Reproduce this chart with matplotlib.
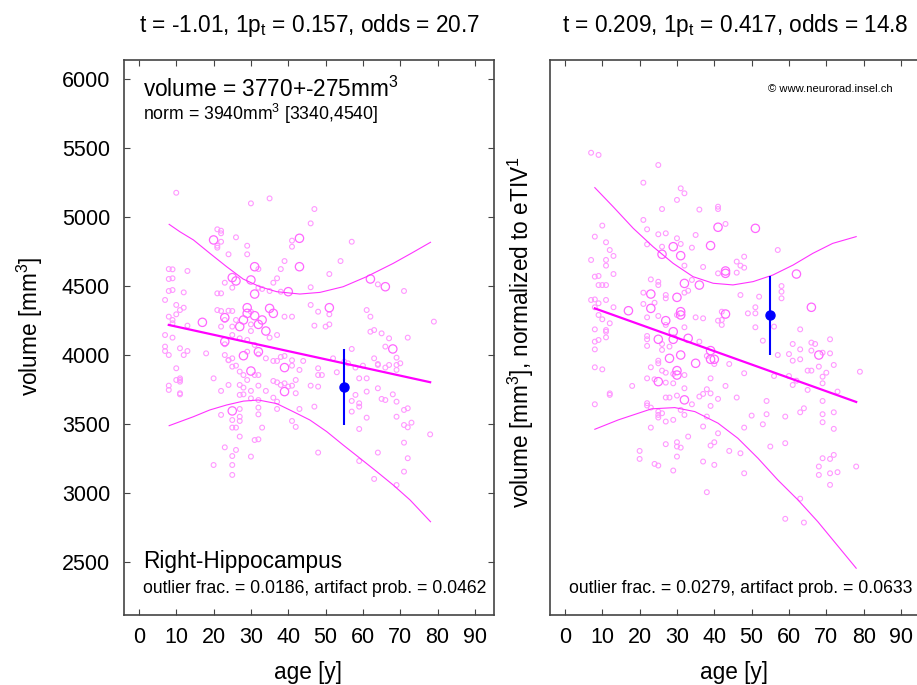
import numpy as np
import matplotlib
matplotlib.use("Agg")
import matplotlib.pyplot as plt

plt.rcParams["font.family"] = ["Liberation Sans", "DejaVu Sans"]
plt.rcParams["mathtext.fontset"] = "custom"
plt.rcParams["mathtext.rm"] = "Liberation Sans"
plt.rcParams["mathtext.it"] = "Liberation Sans:italic"

# --- Right-Hippocampus, absolute volume (age, mm^3) ---
left_small = [
    (10, 5178), (30, 5101), (35, 5137), (47, 5060), (46, 4956), (21, 4913), (22, 4903), (22, 4884),
    (22, 4823), (21, 4794), (21, 4780), (26, 4855), (29, 4794), (29, 4732), (24, 4732), (41, 4831),
    (41, 4787), (57, 4823), (39, 4683), (32, 4625), (54, 4683), (51, 4589), (8, 4625), (9, 4623),
    (13, 4611), (8, 4553), (9, 4558), (37, 4558), (36, 4526), (38, 4625), (23, 4526), (32, 4490),
    (33, 4481), (25, 4490), (46, 4493), (64, 4514), (71, 4466), (8, 4466), (9, 4473), (12, 4456),
    (21, 4449), (22, 4449), (35, 4466), (38, 4461),
    (7, 4401), (10, 4365), (11, 4328), (12, 4345), (8, 4280), (9, 4256), (9, 4232), (10, 4297),
    (13, 4215), (21, 4328), (22, 4321), (24, 4323), (25, 4321), (23, 4256), (22, 4208), (25, 4208),
    (26, 4256), (30, 4316), (30, 4224), (30, 4176), (39, 4280), (41, 4280), (35, 4128), (37, 4147),
    (46, 4365), (48, 4316), (51, 4297), (51, 4224), (50, 4208), (47, 4215), (61, 4328), (62, 4280),
    (62, 4171), (63, 4183), (65, 4159), (67, 4123), (72, 4128), (79, 4244), (7, 4147), (9, 4128),
    (7, 4063), (7, 4031), (8, 4002), (11, 4051), (12, 4002), (13, 4031), (23, 4080), (25, 4147),
    (27, 4123), (29, 4111), (31, 4075), (18, 4014), (23, 4002), (24, 3964), (25, 3978), (29, 4026),
    (32, 4007), (34, 3978), (36, 3959), (37, 3959), (38, 3988), (39, 3995), (41, 3964), (44, 3959),
    (41, 3925), (43, 3894), (48, 3906), (52, 3978), (57, 4046), (55, 3954), (56, 3942), (58, 3911),
    (60, 3925), (63, 3978), (64, 3930), (64, 3937), (66, 4063), (69, 3983), (69, 3930), (70, 3942),
    (67, 3930), (66, 3911), (69, 3894), (10, 3906), (8, 3780), (8, 3749), (10, 3821), (11, 3833),
    (11, 3809), (11, 3821), (11, 3725), (11, 3717), (20, 3833), (24, 3966), (25, 3918), (26, 3925),
    (27, 3882), (28, 3857), (29, 3821), (31, 3857), (32, 3857), (36, 3814), (37, 3804), (38, 3785),
    (39, 3797), (40, 3773), (41, 3780), (42, 3725), (42, 3821), (46, 3780), (48, 3857), (49, 3857),
    (53, 3877), (59, 3833), (61, 3833), (24, 3785), (27, 3785), (28, 3766), (28, 3717), (30, 3742),
    (32, 3780), (34, 3742), (36, 3693), (22, 3742), (27, 3713), (30, 3688), (32, 3676), (37, 3664),
    (48, 3773), (58, 3713), (57, 3669), (59, 3652), (61, 3737), (64, 3761), (65, 3684), (66, 3676),
    (68, 3717), (69, 3664),
    (27, 3611), (22, 3568), (25, 3531), (27, 3555), (27, 3524), (25, 3476), (26, 3476), (32, 3621),
    (32, 3572), (37, 3611), (43, 3611), (47, 3628), (33, 3476), (41, 3524), (42, 3481), (27, 3411),
    (31, 3386), (32, 3391), (23, 3333), (26, 3314), (25, 3270), (30, 3266), (20, 3205), (25, 3205),
    (25, 3133), (48, 3295), (57, 3592), (59, 3628), (61, 3548), (59, 3466), (64, 3295), (59, 3234),
    (63, 3104), (69, 3060), (69, 3555), (71, 3604), (72, 3616), (71, 3495), (72, 3478), (73, 3512),
    (71, 3367), (72, 3254), (71, 3157), (78, 3427),
]
left_big = [
    (20, 4836), (43, 4848), (43, 4642), (31, 4642), (25, 4563), (26, 4539), (30, 4546), (62, 4553),
    (66, 4497), (31, 4444), (40, 4461), (17, 4239), (23, 4273), (27, 4208), (28, 4256), (29, 4345),
    (29, 4304), (31, 4287), (32, 4224), (33, 4256), (34, 4176), (35, 4340), (36, 4304), (51, 4345),
    (23, 4099), (28, 3997), (32, 4026), (39, 3911), (68, 4046), (30, 3886), (39, 3737), (25, 3597),
]

# --- normalized to eTIV ---
right_small = [
    (7, 5468), (9, 5452), (25, 5379), (21, 5251), (31, 5210), (32, 5174), (30, 5126), (26, 5060),
    (36, 5056), (41, 5077), (41, 5060), (21, 4981), (10, 4940), (22, 4913), (43, 4952), (8, 4860),
    (25, 4877), (27, 4884), (30, 4848), (35, 4872), (11, 4819), (22, 4804), (26, 4787), (31, 4807),
    (34, 4780), (12, 4763), (57, 4763), (13, 4720), (7, 4691), (11, 4691), (11, 4650), (32, 4650),
    (37, 4640), (46, 4679), (48, 4715), (47, 4650), (48, 4635),
    (8, 4570), (9, 4575), (13, 4589), (9, 4509), (10, 4509), (11, 4509), (23, 4550), (25, 4533),
    (25, 4509), (34, 4546), (32, 4454), (33, 4468), (41, 4594), (46, 4599), (58, 4502), (58, 4461),
    (21, 4454), (27, 4437), (27, 4413), (7, 4401), (8, 4405), (9, 4377), (11, 4401), (8, 4348),
    (13, 4348), (21, 4372), (24, 4381), (25, 4285), (22, 4275), (30, 4292), (35, 4275), (37, 4268),
    (42, 4316), (42, 4256), (41, 4251), (42, 4220), (47, 4437), (52, 4425), (58, 4413), (51, 4348),
    (51, 4304), (49, 4304), (9, 4292), (10, 4261), (12, 4232), (8, 4188), (11, 4183), (11, 4171),
    (11, 4130), (9, 4111), (8, 4099), (8, 4043), (27, 4220), (32, 4203), (36, 4099), (22, 4140),
    (22, 4116), (22, 4068), (26, 4082), (28, 4063), (26, 4039), (25, 3961), (25, 3942), (38, 3995),
    (40, 3937), (44, 3937), (51, 4203), (53, 4106), (56, 4208), (57, 4002), (60, 4009), (61, 4082),
    (63, 4043), (63, 3971), (61, 3961), (66, 4092), (67, 4082), (66, 4034), (69, 4019), (71, 4014),
    (71, 4116), (63, 4188), (68, 3918), (65, 3889), (66, 3889), (70, 3874), (72, 3930), (79, 3881),
    (8, 3913), (10, 3898), (23, 3913), (26, 3889), (27, 3874), (29, 3865), (32, 3857), (22, 3833),
    (24, 3826), (27, 3802), (29, 3797), (32, 3761), (39, 3833), (38, 3754), (43, 3778), (18, 3778),
    (48, 3870), (56, 3850), (60, 3850), (62, 3816), (61, 3785), (69, 3845), (69, 3797), (65, 3749),
    (73, 3737), (12, 3724), (39, 3724), (37, 3720),
    (8, 3645), (12, 3713), (22, 3653), (22, 3636), (23, 3621), (25, 3592), (25, 3568), (25, 3549),
    (26, 3580), (27, 3520), (29, 3532), (27, 3694), (28, 3694), (30, 3708), (31, 3604), (32, 3568),
    (34, 3645), (36, 3701), (39, 3633), (41, 3684), (46, 3694), (38, 3556), (37, 3484), (23, 3476),
    (41, 3435), (33, 3411), (27, 3356), (30, 3370), (30, 3339), (31, 3331), (39, 3346), (40, 3370),
    (20, 3307), (20, 3249), (24, 3213), (25, 3201), (30, 3266), (29, 3165), (37, 3230), (40, 3206),
    (44, 3307), (47, 3290), (48, 3145), (48, 3476), (50, 3563), (53, 3500), (54, 3669), (54, 3573),
    (59, 3556), (55, 3339), (59, 3363), (38, 3008), (63, 2961), (59, 2815), (64, 2788), (63, 3587),
    (64, 3616), (69, 3669), (69, 3573), (69, 3515), (72, 3587), (72, 3467), (69, 3254), (71, 3249),
    (72, 3278), (68, 3194), (68, 3133), (71, 3145), (73, 3153), (71, 3061), (78, 3194),
]
right_big = [
    (41, 4928), (51, 4920), (29, 4787), (39, 4795), (26, 4732), (31, 4722), (43, 4611), (32, 4521),
    (36, 4509), (43, 4594), (62, 4589), (23, 4444), (30, 4420), (17, 4323), (23, 4340), (31, 4316),
    (31, 4292), (43, 4299), (66, 4348), (27, 4251), (29, 4171), (25, 4116), (29, 4116), (33, 4123),
    (31, 4002), (28, 3978), (35, 3942), (39, 4034), (39, 3971), (40, 3971), (68, 4002), (30, 3889),
    (30, 3857), (25, 3809), (32, 3677),
]

# regression lines and prediction bands
fit_age = [8, 78]
left_fit = [4220, 3805]
right_fit = [4340, 3662]

left_up_age = [8.1, 11.0, 14.6, 19.0, 23.5, 27.9, 32.4, 36.9, 43.1, 48.5, 54.7, 61.0, 68.1, 73.0, 78.1]
left_up = [4949, 4895, 4836, 4739, 4642, 4553, 4497, 4461, 4444, 4456, 4497, 4570, 4666, 4740, 4819]
left_lo_age = [8.1, 14.6, 19.0, 23.5, 28.0, 32.0, 36.9, 41.3, 45.8, 50.3, 54.7, 59.2, 63.7, 68.1, 72.6, 78.1]
left_lo = [3490, 3555, 3604, 3640, 3668, 3676, 3650, 3592, 3531, 3447, 3350, 3254, 3157, 3060, 2952, 2794]

right_up_age = [8.0, 12.9, 18.3, 23.6, 29.0, 34.3, 39.7, 45.0, 50.4, 55.7, 61.1, 66.4, 71.7, 78.0]
right_up = [5215, 5077, 4920, 4787, 4666, 4570, 4522, 4510, 4534, 4582, 4654, 4739, 4811, 4860]
right_lo_age = [8.0, 14.3, 23.2, 29.4, 34.8, 41.0, 46.3, 51.7, 57.0, 62.4, 67.7, 78.0]
right_lo = [3464, 3532, 3612, 3621, 3592, 3508, 3399, 3254, 3097, 2952, 2795, 2457]

# subject measurement (age, volume, error)
subj_age = 55
left_subj = (3770, 275)
right_subj = (4290, 287)

fig = plt.figure(figsize=(9.17, 6.85), dpi=100)
ax1 = fig.add_axes([0.1352, 0.1022, 0.4035, 0.8102])
ax2 = fig.add_axes([0.5998, 0.1022, 0.4035, 0.8102])

BIG = 16.3
SMALL = 12.7


def draw_panel(ax, small, big, fit, up_age, up, lo_age, lo, subj):
    s = np.array(small)
    b = np.array(big)
    ax.scatter(s[:, 0], s[:, 1], s=12, facecolors="none", edgecolors="#ff99ff", linewidths=0.8, zorder=2)
    ax.scatter(b[:, 0], b[:, 1], s=36, facecolors="none", edgecolors="#ff66ff", linewidths=0.9, zorder=2)
    ax.plot(fit_age, fit, color="#ff00ff", lw=1.6, zorder=3)
    ax.plot(up_age, up, color="#ff33ff", lw=0.8, zorder=3)
    ax.plot(lo_age, lo, color="#ff33ff", lw=0.8, zorder=3)
    ax.errorbar([subj_age], [subj[0]], yerr=[subj[1]], fmt="o", color="#0000ff",
                ms=6.5, elinewidth=1.5, capsize=0, zorder=4)
    ax.set_xlim(-4, 95.1)
    ax.set_ylim(2118, 6140)
    ax.set_xticks(range(0, 100, 10))
    for sp in ax.spines.values():
        sp.set_color("#444444")
        sp.set_linewidth(1.2)


draw_panel(ax1, left_small, left_big, left_fit, left_up_age, left_up, left_lo_age, left_lo, left_subj)
draw_panel(ax2, right_small, right_big, right_fit, right_up_age, right_up, right_lo_age, right_lo, right_subj)

ax1.set_yticks(range(2500, 6001, 500))
ax1.tick_params(axis="both", direction="in", length=4, width=0.8, color="#444444",
                top=True, right=True, labelsize=15.5, pad=9)
ax1.tick_params(axis="y", pad=10)
ax2.set_yticks([])
ax2.tick_params(axis="x", direction="in", length=4, width=0.8, color="#444444",
                top=True, labelsize=15.5, pad=9)

# titles
ax1.text(0.5, 1.051, "t = -1.01, 1p$_\\mathrm{t}$ = 0.157, odds = 20.7", transform=ax1.transAxes,
         ha="center", va="baseline", fontsize=BIG)
ax2.text(0.5, 1.051, "t = 0.209, 1p$_\\mathrm{t}$ = 0.417, odds = 14.8", transform=ax2.transAxes,
         ha="center", va="baseline", fontsize=BIG)

# axis labels
for ax in (ax1, ax2):
    ax.text(0.497, -0.115, "age [y]", transform=ax.transAxes, ha="center", va="baseline", fontsize=BIG)
ax1.text(-0.254, 0.52, "volume [mm$^3$]", transform=ax1.transAxes, rotation=90,
         ha="center", va="center", fontsize=BIG)
ax2.text(-0.078, 0.51, "volume [mm$^3$], normalized to eTIV$^1$", transform=ax2.transAxes,
         rotation=90, ha="center", va="center", fontsize=BIG)

# annotations inside the panels
ax1.text(0.051, 0.934, "volume = 3770+-275mm$^3$", transform=ax1.transAxes, va="baseline", fontsize=BIG)
ax1.text(0.051, 0.892, "norm = 3940mm$^3$ [3340,4540]", transform=ax1.transAxes, va="baseline", fontsize=SMALL)
ax1.text(0.051, 0.084, "Right-Hippocampus", transform=ax1.transAxes, va="baseline", fontsize=BIG)
ax1.text(0.051, 0.039, "outlier frac. = 0.0186, artifact prob. = 0.0462", transform=ax1.transAxes,
         va="baseline", fontsize=SMALL)
ax2.text(0.051, 0.039, "outlier frac. = 0.0279, artifact prob. = 0.0633", transform=ax2.transAxes,
         va="baseline", fontsize=SMALL)
ax2.text(0.589, 0.942, "\u00a9 www.neurorad.insel.ch", transform=ax2.transAxes, va="baseline", fontsize=8.1)

fig.savefig("out.png", dpi=100)
